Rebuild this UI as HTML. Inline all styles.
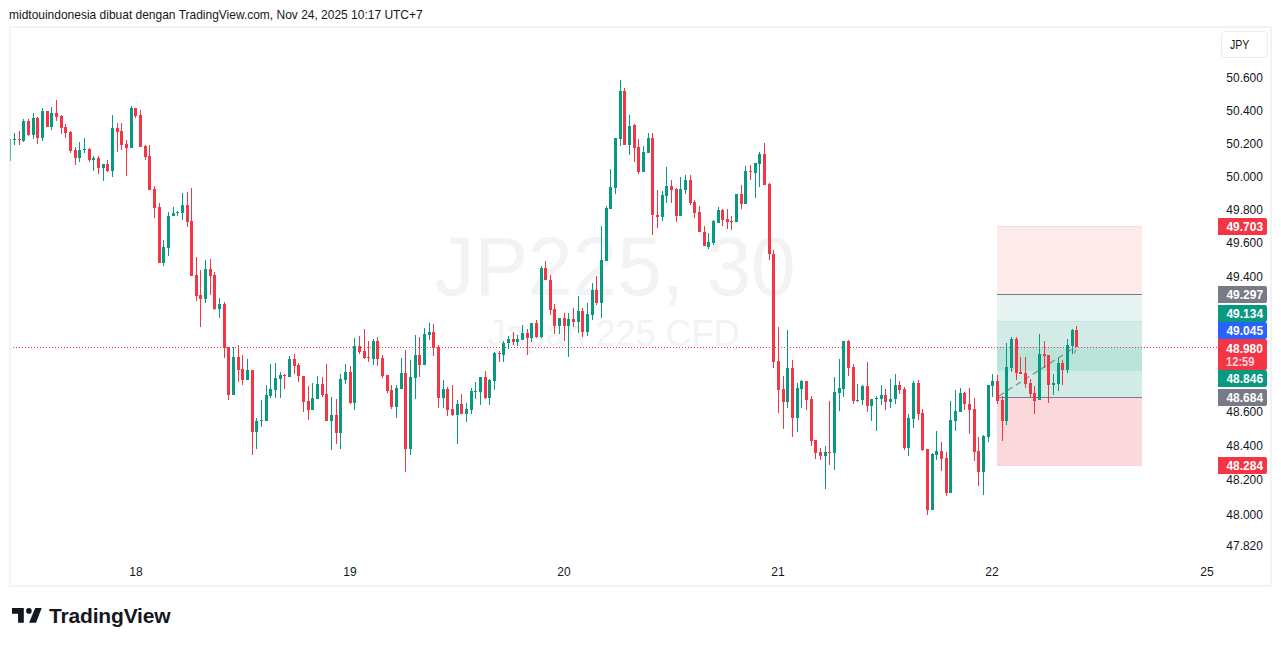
<!DOCTYPE html>
<html><head><meta charset="utf-8">
<style>
html,body{margin:0;padding:0;background:#fff;}
body{width:1281px;height:646px;position:relative;overflow:hidden;font-family:"Liberation Sans",sans-serif;color:#131722;}
.abs{position:absolute;}
#hdr{left:9.3px;top:7px;font-size:13px;line-height:15px;white-space:nowrap;color:#131722;transform:scaleX(0.9215);transform-origin:0 0;}
#frame{left:9px;top:26px;width:1259px;height:557px;border:2px solid #f3f3f3;}
.pl{position:absolute;right:18px;font-size:12.4px;line-height:15px;transform:scaleX(0.965);transform-origin:100% 0;text-align:right;color:#131722;}
.tl{position:absolute;top:565px;font-size:12px;line-height:14px;width:40px;text-align:center;color:#131722;}
.lb{position:absolute;left:1218px;width:49px;color:#fff;font-size:12.4px;font-weight:bold;line-height:17px;text-align:right;border-radius:0 2px 2px 0;}
.lb span{padding-right:4px;position:relative;top:1px;display:inline-block;transform:scaleX(0.965);transform-origin:100% 0;}
</style></head><body>
<div id="hdr" class="abs">midtouindonesia dibuat dengan TradingView.com, Nov 24, 2025 10:17 UTC+7</div>
<div id="frame" class="abs"></div>
<svg class="abs" style="left:0;top:0" width="1281" height="646" viewBox="0 0 1281 646">
 <defs><clipPath id="cp"><rect x="11" y="28" width="1200" height="522"/></clipPath></defs>
 <g fill="#f3f3f3" font-family="Liberation Sans" >
  <text x="0" y="0" font-size="84" transform="translate(615 295) scale(0.955 1)" text-anchor="middle">JP225, 30</text>
  <text x="613.5" y="346" font-size="36" text-anchor="middle">Japan 225 CFD</text>
 </g>
 <g clip-path="url(#cp)" shape-rendering="crispEdges">
  <rect x="997" y="226" width="145" height="68" fill="#fdeaea"/>
  <rect x="997" y="226" width="145" height="1" fill="#fbdcdc"/>
  <rect x="997" y="295" width="145" height="26" fill="#e5f4f1"/>
  <rect x="997" y="321" width="145" height="26" fill="#d2ebe6"/>
  <rect x="997" y="321" width="145" height="1" fill="#c4e5de"/>
  <rect x="997" y="347" width="145" height="24" fill="#bae3da"/>
  <rect x="997" y="371" width="145" height="26" fill="#d2ebe6"/>
  <rect x="997" y="398" width="145" height="68" fill="#fad8db"/>
  <rect x="997" y="465" width="145" height="1" fill="#f9d0d5"/>
  <rect x="997" y="294" width="145" height="1" fill="#787b86"/>
  <rect x="997" y="397" width="145" height="1" fill="#787b86"/>
 </g>
 <defs><pattern id="dots" x="1" y="347" width="3" height="1" patternUnits="userSpaceOnUse"><rect x="0" y="0" width="1" height="1" fill="#f23645"/></pattern></defs>
 <rect x="11" y="347" width="1207" height="1" fill="url(#dots)" shape-rendering="crispEdges"/>
 <line x1="999" y1="396" x2="1076" y2="346.5" stroke="#858892" stroke-width="1.2" stroke-dasharray="6 4"/>
 <line x1="1075.8" y1="349.5" x2="1074.3" y2="353.5" stroke="#858892" stroke-width="1.2"/>
 <g clip-path="url(#cp)" shape-rendering="crispEdges">
<rect x="14" y="133" width="1" height="12" fill="#089981"/>
<rect x="13" y="139" width="3" height="1" fill="#089981"/>
<rect x="19" y="131" width="1" height="14" fill="#f23645"/>
<rect x="18" y="139" width="3" height="1" fill="#f23645"/>
<rect x="23" y="119" width="1" height="23" fill="#089981"/>
<rect x="22" y="121" width="3" height="20" fill="#089981"/>
<rect x="28" y="119" width="1" height="17" fill="#f23645"/>
<rect x="27" y="121" width="3" height="14" fill="#f23645"/>
<rect x="33" y="113" width="1" height="26" fill="#089981"/>
<rect x="32" y="118" width="3" height="17" fill="#089981"/>
<rect x="37" y="117" width="1" height="27" fill="#f23645"/>
<rect x="36" y="118" width="3" height="20" fill="#f23645"/>
<rect x="42" y="108" width="1" height="33" fill="#089981"/>
<rect x="41" y="111" width="3" height="27" fill="#089981"/>
<rect x="47" y="111" width="1" height="16" fill="#f23645"/>
<rect x="46" y="111" width="3" height="16" fill="#f23645"/>
<rect x="51" y="107" width="1" height="23" fill="#089981"/>
<rect x="50" y="113" width="3" height="14" fill="#089981"/>
<rect x="56" y="100" width="1" height="21" fill="#f23645"/>
<rect x="55" y="113" width="3" height="4" fill="#f23645"/>
<rect x="61" y="115" width="1" height="19" fill="#f23645"/>
<rect x="60" y="116" width="3" height="12" fill="#f23645"/>
<rect x="65" y="124" width="1" height="14" fill="#f23645"/>
<rect x="64" y="127" width="3" height="6" fill="#f23645"/>
<rect x="70" y="131" width="1" height="22" fill="#f23645"/>
<rect x="69" y="132" width="3" height="19" fill="#f23645"/>
<rect x="75" y="147" width="1" height="18" fill="#f23645"/>
<rect x="74" y="150" width="3" height="8" fill="#f23645"/>
<rect x="79" y="142" width="1" height="20" fill="#089981"/>
<rect x="78" y="150" width="3" height="8" fill="#089981"/>
<rect x="84" y="138" width="1" height="15" fill="#089981"/>
<rect x="83" y="149" width="3" height="1" fill="#089981"/>
<rect x="89" y="148" width="1" height="14" fill="#f23645"/>
<rect x="88" y="149" width="3" height="11" fill="#f23645"/>
<rect x="93" y="156" width="1" height="15" fill="#089981"/>
<rect x="92" y="158" width="3" height="2" fill="#089981"/>
<rect x="98" y="156" width="1" height="18" fill="#f23645"/>
<rect x="97" y="158" width="3" height="10" fill="#f23645"/>
<rect x="103" y="164" width="1" height="17" fill="#089981"/>
<rect x="102" y="164" width="3" height="4" fill="#089981"/>
<rect x="107" y="160" width="1" height="12" fill="#f23645"/>
<rect x="106" y="164" width="3" height="7" fill="#f23645"/>
<rect x="112" y="115" width="1" height="62" fill="#089981"/>
<rect x="111" y="128" width="3" height="43" fill="#089981"/>
<rect x="117" y="123" width="1" height="29" fill="#f23645"/>
<rect x="116" y="128" width="3" height="4" fill="#f23645"/>
<rect x="121" y="123" width="1" height="27" fill="#f23645"/>
<rect x="120" y="131" width="3" height="14" fill="#f23645"/>
<rect x="126" y="140" width="1" height="36" fill="#f23645"/>
<rect x="125" y="144" width="3" height="4" fill="#f23645"/>
<rect x="131" y="106" width="1" height="42" fill="#089981"/>
<rect x="130" y="108" width="3" height="40" fill="#089981"/>
<rect x="135" y="108" width="1" height="10" fill="#f23645"/>
<rect x="134" y="108" width="3" height="8" fill="#f23645"/>
<rect x="140" y="110" width="1" height="37" fill="#f23645"/>
<rect x="139" y="115" width="3" height="32" fill="#f23645"/>
<rect x="145" y="145" width="1" height="15" fill="#f23645"/>
<rect x="144" y="146" width="3" height="11" fill="#f23645"/>
<rect x="149" y="145" width="1" height="45" fill="#f23645"/>
<rect x="148" y="156" width="3" height="34" fill="#f23645"/>
<rect x="154" y="186" width="1" height="32" fill="#f23645"/>
<rect x="153" y="189" width="3" height="19" fill="#f23645"/>
<rect x="159" y="203" width="1" height="60" fill="#f23645"/>
<rect x="158" y="207" width="3" height="56" fill="#f23645"/>
<rect x="163" y="240" width="1" height="26" fill="#089981"/>
<rect x="162" y="247" width="3" height="16" fill="#089981"/>
<rect x="168" y="212" width="1" height="44" fill="#089981"/>
<rect x="167" y="216" width="3" height="32" fill="#089981"/>
<rect x="173" y="207" width="1" height="9" fill="#089981"/>
<rect x="172" y="213" width="3" height="3" fill="#089981"/>
<rect x="177" y="211" width="1" height="5" fill="#089981"/>
<rect x="176" y="212" width="3" height="1" fill="#089981"/>
<rect x="182" y="193" width="1" height="27" fill="#089981"/>
<rect x="181" y="205" width="3" height="8" fill="#089981"/>
<rect x="187" y="192" width="1" height="35" fill="#f23645"/>
<rect x="186" y="205" width="3" height="17" fill="#f23645"/>
<rect x="191" y="188" width="1" height="88" fill="#f23645"/>
<rect x="190" y="221" width="3" height="55" fill="#f23645"/>
<rect x="196" y="257" width="1" height="44" fill="#f23645"/>
<rect x="195" y="275" width="3" height="21" fill="#f23645"/>
<rect x="200" y="270" width="1" height="57" fill="#f23645"/>
<rect x="199" y="295" width="3" height="4" fill="#f23645"/>
<rect x="205" y="260" width="1" height="43" fill="#089981"/>
<rect x="204" y="269" width="3" height="30" fill="#089981"/>
<rect x="210" y="259" width="1" height="36" fill="#f23645"/>
<rect x="209" y="269" width="3" height="7" fill="#f23645"/>
<rect x="214" y="272" width="1" height="38" fill="#f23645"/>
<rect x="213" y="275" width="3" height="34" fill="#f23645"/>
<rect x="219" y="298" width="1" height="20" fill="#089981"/>
<rect x="218" y="304" width="3" height="5" fill="#089981"/>
<rect x="224" y="302" width="1" height="56" fill="#f23645"/>
<rect x="223" y="304" width="3" height="44" fill="#f23645"/>
<rect x="228" y="347" width="1" height="53" fill="#f23645"/>
<rect x="227" y="347" width="3" height="48" fill="#f23645"/>
<rect x="233" y="347" width="1" height="48" fill="#089981"/>
<rect x="232" y="357" width="3" height="38" fill="#089981"/>
<rect x="238" y="345" width="1" height="37" fill="#f23645"/>
<rect x="237" y="357" width="3" height="13" fill="#f23645"/>
<rect x="242" y="355" width="1" height="30" fill="#f23645"/>
<rect x="241" y="369" width="3" height="11" fill="#f23645"/>
<rect x="247" y="359" width="1" height="21" fill="#089981"/>
<rect x="246" y="370" width="3" height="10" fill="#089981"/>
<rect x="252" y="370" width="1" height="85" fill="#f23645"/>
<rect x="251" y="370" width="3" height="62" fill="#f23645"/>
<rect x="256" y="418" width="1" height="31" fill="#089981"/>
<rect x="255" y="421" width="3" height="11" fill="#089981"/>
<rect x="261" y="400" width="1" height="27" fill="#089981"/>
<rect x="260" y="420" width="3" height="1" fill="#089981"/>
<rect x="266" y="385" width="1" height="36" fill="#089981"/>
<rect x="265" y="395" width="3" height="26" fill="#089981"/>
<rect x="270" y="364" width="1" height="34" fill="#089981"/>
<rect x="269" y="389" width="3" height="7" fill="#089981"/>
<rect x="275" y="363" width="1" height="35" fill="#089981"/>
<rect x="274" y="378" width="3" height="12" fill="#089981"/>
<rect x="280" y="372" width="1" height="26" fill="#089981"/>
<rect x="279" y="375" width="3" height="4" fill="#089981"/>
<rect x="284" y="374" width="1" height="15" fill="#f23645"/>
<rect x="283" y="375" width="3" height="1" fill="#f23645"/>
<rect x="289" y="356" width="1" height="21" fill="#089981"/>
<rect x="288" y="359" width="3" height="18" fill="#089981"/>
<rect x="294" y="354" width="1" height="20" fill="#f23645"/>
<rect x="293" y="359" width="3" height="7" fill="#f23645"/>
<rect x="298" y="363" width="1" height="19" fill="#f23645"/>
<rect x="297" y="365" width="3" height="11" fill="#f23645"/>
<rect x="303" y="376" width="1" height="36" fill="#f23645"/>
<rect x="302" y="376" width="3" height="26" fill="#f23645"/>
<rect x="308" y="386" width="1" height="34" fill="#f23645"/>
<rect x="307" y="401" width="3" height="9" fill="#f23645"/>
<rect x="312" y="383" width="1" height="27" fill="#089981"/>
<rect x="311" y="398" width="3" height="12" fill="#089981"/>
<rect x="317" y="376" width="1" height="23" fill="#089981"/>
<rect x="316" y="384" width="3" height="15" fill="#089981"/>
<rect x="322" y="377" width="1" height="20" fill="#f23645"/>
<rect x="321" y="384" width="3" height="11" fill="#f23645"/>
<rect x="326" y="364" width="1" height="57" fill="#f23645"/>
<rect x="325" y="394" width="3" height="27" fill="#f23645"/>
<rect x="331" y="397" width="1" height="53" fill="#089981"/>
<rect x="330" y="415" width="3" height="6" fill="#089981"/>
<rect x="336" y="399" width="1" height="45" fill="#f23645"/>
<rect x="335" y="415" width="3" height="18" fill="#f23645"/>
<rect x="340" y="374" width="1" height="75" fill="#089981"/>
<rect x="339" y="379" width="3" height="54" fill="#089981"/>
<rect x="345" y="364" width="1" height="20" fill="#089981"/>
<rect x="344" y="372" width="3" height="8" fill="#089981"/>
<rect x="350" y="366" width="1" height="38" fill="#f23645"/>
<rect x="349" y="372" width="3" height="31" fill="#f23645"/>
<rect x="354" y="338" width="1" height="72" fill="#089981"/>
<rect x="353" y="346" width="3" height="57" fill="#089981"/>
<rect x="359" y="336" width="1" height="18" fill="#f23645"/>
<rect x="358" y="346" width="3" height="6" fill="#f23645"/>
<rect x="364" y="329" width="1" height="30" fill="#f23645"/>
<rect x="363" y="351" width="3" height="7" fill="#f23645"/>
<rect x="368" y="341" width="1" height="21" fill="#f23645"/>
<rect x="367" y="357" width="3" height="1" fill="#f23645"/>
<rect x="373" y="339" width="1" height="26" fill="#089981"/>
<rect x="372" y="341" width="3" height="18" fill="#089981"/>
<rect x="377" y="337" width="1" height="29" fill="#f23645"/>
<rect x="376" y="341" width="3" height="18" fill="#f23645"/>
<rect x="382" y="355" width="1" height="23" fill="#f23645"/>
<rect x="381" y="358" width="3" height="18" fill="#f23645"/>
<rect x="387" y="375" width="1" height="18" fill="#f23645"/>
<rect x="386" y="375" width="3" height="16" fill="#f23645"/>
<rect x="391" y="385" width="1" height="24" fill="#f23645"/>
<rect x="390" y="390" width="3" height="17" fill="#f23645"/>
<rect x="396" y="385" width="1" height="33" fill="#089981"/>
<rect x="395" y="388" width="3" height="19" fill="#089981"/>
<rect x="401" y="358" width="1" height="31" fill="#089981"/>
<rect x="400" y="373" width="3" height="16" fill="#089981"/>
<rect x="405" y="350" width="1" height="122" fill="#f23645"/>
<rect x="404" y="373" width="3" height="76" fill="#f23645"/>
<rect x="410" y="360" width="1" height="95" fill="#089981"/>
<rect x="409" y="377" width="3" height="72" fill="#089981"/>
<rect x="415" y="335" width="1" height="64" fill="#089981"/>
<rect x="414" y="355" width="3" height="23" fill="#089981"/>
<rect x="419" y="337" width="1" height="40" fill="#f23645"/>
<rect x="418" y="355" width="3" height="10" fill="#f23645"/>
<rect x="424" y="328" width="1" height="37" fill="#089981"/>
<rect x="423" y="334" width="3" height="31" fill="#089981"/>
<rect x="429" y="323" width="1" height="17" fill="#089981"/>
<rect x="428" y="332" width="3" height="3" fill="#089981"/>
<rect x="433" y="324" width="1" height="32" fill="#f23645"/>
<rect x="432" y="332" width="3" height="16" fill="#f23645"/>
<rect x="438" y="345" width="1" height="63" fill="#f23645"/>
<rect x="437" y="347" width="3" height="51" fill="#f23645"/>
<rect x="443" y="380" width="1" height="28" fill="#089981"/>
<rect x="442" y="389" width="3" height="9" fill="#089981"/>
<rect x="447" y="387" width="1" height="29" fill="#f23645"/>
<rect x="446" y="389" width="3" height="21" fill="#f23645"/>
<rect x="452" y="385" width="1" height="31" fill="#f23645"/>
<rect x="451" y="409" width="3" height="6" fill="#f23645"/>
<rect x="457" y="400" width="1" height="44" fill="#089981"/>
<rect x="456" y="404" width="3" height="11" fill="#089981"/>
<rect x="461" y="394" width="1" height="20" fill="#f23645"/>
<rect x="460" y="404" width="3" height="10" fill="#f23645"/>
<rect x="466" y="403" width="1" height="19" fill="#089981"/>
<rect x="465" y="409" width="3" height="5" fill="#089981"/>
<rect x="471" y="388" width="1" height="26" fill="#089981"/>
<rect x="470" y="391" width="3" height="19" fill="#089981"/>
<rect x="475" y="382" width="1" height="17" fill="#089981"/>
<rect x="474" y="391" width="3" height="1" fill="#089981"/>
<rect x="480" y="377" width="1" height="28" fill="#089981"/>
<rect x="479" y="377" width="3" height="15" fill="#089981"/>
<rect x="485" y="371" width="1" height="28" fill="#f23645"/>
<rect x="484" y="377" width="3" height="21" fill="#f23645"/>
<rect x="489" y="379" width="1" height="26" fill="#089981"/>
<rect x="488" y="380" width="3" height="18" fill="#089981"/>
<rect x="494" y="352" width="1" height="38" fill="#089981"/>
<rect x="493" y="353" width="3" height="28" fill="#089981"/>
<rect x="499" y="351" width="1" height="11" fill="#f23645"/>
<rect x="498" y="353" width="3" height="1" fill="#f23645"/>
<rect x="503" y="341" width="1" height="21" fill="#089981"/>
<rect x="502" y="343" width="3" height="12" fill="#089981"/>
<rect x="508" y="336" width="1" height="13" fill="#089981"/>
<rect x="507" y="339" width="3" height="4" fill="#089981"/>
<rect x="513" y="332" width="1" height="13" fill="#f23645"/>
<rect x="512" y="339" width="3" height="3" fill="#f23645"/>
<rect x="517" y="335" width="1" height="11" fill="#089981"/>
<rect x="516" y="339" width="3" height="3" fill="#089981"/>
<rect x="522" y="325" width="1" height="15" fill="#089981"/>
<rect x="521" y="333" width="3" height="7" fill="#089981"/>
<rect x="527" y="329" width="1" height="26" fill="#f23645"/>
<rect x="526" y="333" width="3" height="5" fill="#f23645"/>
<rect x="531" y="323" width="1" height="19" fill="#089981"/>
<rect x="530" y="323" width="3" height="15" fill="#089981"/>
<rect x="536" y="320" width="1" height="18" fill="#f23645"/>
<rect x="535" y="323" width="3" height="14" fill="#f23645"/>
<rect x="541" y="266" width="1" height="72" fill="#089981"/>
<rect x="540" y="268" width="3" height="69" fill="#089981"/>
<rect x="545" y="261" width="1" height="19" fill="#f23645"/>
<rect x="544" y="268" width="3" height="12" fill="#f23645"/>
<rect x="550" y="275" width="1" height="40" fill="#f23645"/>
<rect x="549" y="280" width="3" height="30" fill="#f23645"/>
<rect x="554" y="304" width="1" height="30" fill="#f23645"/>
<rect x="553" y="309" width="3" height="17" fill="#f23645"/>
<rect x="559" y="318" width="1" height="16" fill="#089981"/>
<rect x="558" y="318" width="3" height="8" fill="#089981"/>
<rect x="564" y="313" width="1" height="28" fill="#f23645"/>
<rect x="563" y="318" width="3" height="8" fill="#f23645"/>
<rect x="568" y="313" width="1" height="44" fill="#089981"/>
<rect x="567" y="319" width="3" height="7" fill="#089981"/>
<rect x="573" y="308" width="1" height="19" fill="#f23645"/>
<rect x="572" y="319" width="3" height="3" fill="#f23645"/>
<rect x="578" y="296" width="1" height="37" fill="#089981"/>
<rect x="577" y="311" width="3" height="11" fill="#089981"/>
<rect x="582" y="308" width="1" height="29" fill="#f23645"/>
<rect x="581" y="311" width="3" height="21" fill="#f23645"/>
<rect x="587" y="303" width="1" height="33" fill="#089981"/>
<rect x="586" y="314" width="3" height="18" fill="#089981"/>
<rect x="592" y="283" width="1" height="37" fill="#089981"/>
<rect x="591" y="290" width="3" height="25" fill="#089981"/>
<rect x="596" y="276" width="1" height="29" fill="#f23645"/>
<rect x="595" y="290" width="3" height="13" fill="#f23645"/>
<rect x="601" y="226" width="1" height="92" fill="#089981"/>
<rect x="600" y="260" width="3" height="43" fill="#089981"/>
<rect x="606" y="206" width="1" height="55" fill="#089981"/>
<rect x="605" y="208" width="3" height="53" fill="#089981"/>
<rect x="610" y="169" width="1" height="40" fill="#089981"/>
<rect x="609" y="187" width="3" height="22" fill="#089981"/>
<rect x="615" y="138" width="1" height="56" fill="#089981"/>
<rect x="614" y="138" width="3" height="50" fill="#089981"/>
<rect x="620" y="80" width="1" height="66" fill="#089981"/>
<rect x="619" y="91" width="3" height="48" fill="#089981"/>
<rect x="624" y="88" width="1" height="57" fill="#f23645"/>
<rect x="623" y="91" width="3" height="54" fill="#f23645"/>
<rect x="629" y="115" width="1" height="40" fill="#089981"/>
<rect x="628" y="126" width="3" height="19" fill="#089981"/>
<rect x="634" y="124" width="1" height="38" fill="#f23645"/>
<rect x="633" y="125" width="3" height="23" fill="#f23645"/>
<rect x="638" y="139" width="1" height="35" fill="#f23645"/>
<rect x="637" y="147" width="3" height="25" fill="#f23645"/>
<rect x="643" y="146" width="1" height="26" fill="#089981"/>
<rect x="642" y="152" width="3" height="20" fill="#089981"/>
<rect x="648" y="133" width="1" height="20" fill="#089981"/>
<rect x="647" y="138" width="3" height="15" fill="#089981"/>
<rect x="652" y="133" width="1" height="102" fill="#f23645"/>
<rect x="651" y="138" width="3" height="77" fill="#f23645"/>
<rect x="657" y="190" width="1" height="38" fill="#f23645"/>
<rect x="656" y="215" width="3" height="2" fill="#f23645"/>
<rect x="662" y="191" width="1" height="30" fill="#089981"/>
<rect x="661" y="195" width="3" height="22" fill="#089981"/>
<rect x="666" y="167" width="1" height="36" fill="#089981"/>
<rect x="665" y="186" width="3" height="10" fill="#089981"/>
<rect x="671" y="180" width="1" height="23" fill="#f23645"/>
<rect x="670" y="186" width="3" height="4" fill="#f23645"/>
<rect x="676" y="188" width="1" height="34" fill="#f23645"/>
<rect x="675" y="189" width="3" height="27" fill="#f23645"/>
<rect x="680" y="177" width="1" height="39" fill="#089981"/>
<rect x="679" y="189" width="3" height="27" fill="#089981"/>
<rect x="685" y="175" width="1" height="19" fill="#089981"/>
<rect x="684" y="180" width="3" height="10" fill="#089981"/>
<rect x="690" y="175" width="1" height="30" fill="#f23645"/>
<rect x="689" y="180" width="3" height="23" fill="#f23645"/>
<rect x="694" y="200" width="1" height="18" fill="#f23645"/>
<rect x="693" y="202" width="3" height="11" fill="#f23645"/>
<rect x="699" y="206" width="1" height="26" fill="#f23645"/>
<rect x="698" y="212" width="3" height="20" fill="#f23645"/>
<rect x="704" y="226" width="1" height="20" fill="#f23645"/>
<rect x="703" y="232" width="3" height="14" fill="#f23645"/>
<rect x="708" y="233" width="1" height="16" fill="#089981"/>
<rect x="707" y="242" width="3" height="5" fill="#089981"/>
<rect x="713" y="220" width="1" height="25" fill="#089981"/>
<rect x="712" y="221" width="3" height="22" fill="#089981"/>
<rect x="718" y="207" width="1" height="16" fill="#089981"/>
<rect x="717" y="210" width="3" height="13" fill="#089981"/>
<rect x="722" y="209" width="1" height="17" fill="#f23645"/>
<rect x="721" y="210" width="3" height="10" fill="#f23645"/>
<rect x="727" y="209" width="1" height="20" fill="#f23645"/>
<rect x="726" y="219" width="3" height="3" fill="#f23645"/>
<rect x="731" y="216" width="1" height="14" fill="#f23645"/>
<rect x="730" y="221" width="3" height="1" fill="#f23645"/>
<rect x="736" y="194" width="1" height="28" fill="#089981"/>
<rect x="735" y="194" width="3" height="28" fill="#089981"/>
<rect x="741" y="185" width="1" height="24" fill="#f23645"/>
<rect x="740" y="194" width="3" height="10" fill="#f23645"/>
<rect x="745" y="166" width="1" height="38" fill="#089981"/>
<rect x="744" y="171" width="3" height="33" fill="#089981"/>
<rect x="750" y="165" width="1" height="15" fill="#f23645"/>
<rect x="749" y="171" width="3" height="1" fill="#f23645"/>
<rect x="755" y="163" width="1" height="35" fill="#089981"/>
<rect x="754" y="163" width="3" height="10" fill="#089981"/>
<rect x="759" y="152" width="1" height="35" fill="#089981"/>
<rect x="758" y="154" width="3" height="10" fill="#089981"/>
<rect x="764" y="143" width="1" height="42" fill="#f23645"/>
<rect x="763" y="154" width="3" height="31" fill="#f23645"/>
<rect x="769" y="183" width="1" height="77" fill="#f23645"/>
<rect x="768" y="184" width="3" height="70" fill="#f23645"/>
<rect x="773" y="250" width="1" height="118" fill="#f23645"/>
<rect x="772" y="254" width="3" height="108" fill="#f23645"/>
<rect x="778" y="327" width="1" height="86" fill="#f23645"/>
<rect x="777" y="361" width="3" height="29" fill="#f23645"/>
<rect x="783" y="376" width="1" height="53" fill="#f23645"/>
<rect x="782" y="389" width="3" height="13" fill="#f23645"/>
<rect x="787" y="330" width="1" height="78" fill="#089981"/>
<rect x="786" y="368" width="3" height="34" fill="#089981"/>
<rect x="792" y="360" width="1" height="77" fill="#f23645"/>
<rect x="791" y="368" width="3" height="50" fill="#f23645"/>
<rect x="797" y="383" width="1" height="49" fill="#089981"/>
<rect x="796" y="388" width="3" height="30" fill="#089981"/>
<rect x="801" y="380" width="1" height="28" fill="#089981"/>
<rect x="800" y="381" width="3" height="8" fill="#089981"/>
<rect x="806" y="381" width="1" height="29" fill="#f23645"/>
<rect x="805" y="381" width="3" height="19" fill="#f23645"/>
<rect x="811" y="396" width="1" height="50" fill="#f23645"/>
<rect x="810" y="399" width="3" height="42" fill="#f23645"/>
<rect x="815" y="440" width="1" height="19" fill="#f23645"/>
<rect x="814" y="440" width="3" height="13" fill="#f23645"/>
<rect x="820" y="448" width="1" height="12" fill="#f23645"/>
<rect x="819" y="452" width="3" height="4" fill="#f23645"/>
<rect x="825" y="446" width="1" height="43" fill="#089981"/>
<rect x="824" y="452" width="3" height="4" fill="#089981"/>
<rect x="829" y="401" width="1" height="64" fill="#f23645"/>
<rect x="828" y="452" width="3" height="1" fill="#f23645"/>
<rect x="834" y="377" width="1" height="93" fill="#089981"/>
<rect x="833" y="392" width="3" height="61" fill="#089981"/>
<rect x="839" y="359" width="1" height="52" fill="#089981"/>
<rect x="838" y="388" width="3" height="5" fill="#089981"/>
<rect x="843" y="341" width="1" height="56" fill="#089981"/>
<rect x="842" y="341" width="3" height="48" fill="#089981"/>
<rect x="848" y="340" width="1" height="36" fill="#f23645"/>
<rect x="847" y="341" width="3" height="27" fill="#f23645"/>
<rect x="853" y="364" width="1" height="40" fill="#f23645"/>
<rect x="852" y="367" width="3" height="34" fill="#f23645"/>
<rect x="857" y="384" width="1" height="18" fill="#089981"/>
<rect x="856" y="400" width="3" height="1" fill="#089981"/>
<rect x="862" y="385" width="1" height="20" fill="#089981"/>
<rect x="861" y="386" width="3" height="14" fill="#089981"/>
<rect x="867" y="362" width="1" height="50" fill="#f23645"/>
<rect x="866" y="386" width="3" height="20" fill="#f23645"/>
<rect x="871" y="399" width="1" height="22" fill="#089981"/>
<rect x="870" y="399" width="3" height="7" fill="#089981"/>
<rect x="876" y="396" width="1" height="35" fill="#089981"/>
<rect x="875" y="398" width="3" height="1" fill="#089981"/>
<rect x="881" y="385" width="1" height="20" fill="#089981"/>
<rect x="880" y="395" width="3" height="4" fill="#089981"/>
<rect x="885" y="389" width="1" height="21" fill="#f23645"/>
<rect x="884" y="395" width="3" height="7" fill="#f23645"/>
<rect x="890" y="379" width="1" height="29" fill="#089981"/>
<rect x="889" y="399" width="3" height="3" fill="#089981"/>
<rect x="895" y="374" width="1" height="30" fill="#089981"/>
<rect x="894" y="385" width="3" height="14" fill="#089981"/>
<rect x="899" y="381" width="1" height="13" fill="#f23645"/>
<rect x="898" y="385" width="3" height="5" fill="#f23645"/>
<rect x="904" y="387" width="1" height="63" fill="#f23645"/>
<rect x="903" y="389" width="3" height="59" fill="#f23645"/>
<rect x="908" y="414" width="1" height="42" fill="#089981"/>
<rect x="907" y="418" width="3" height="30" fill="#089981"/>
<rect x="913" y="381" width="1" height="47" fill="#089981"/>
<rect x="912" y="383" width="3" height="36" fill="#089981"/>
<rect x="918" y="380" width="1" height="40" fill="#f23645"/>
<rect x="917" y="383" width="3" height="31" fill="#f23645"/>
<rect x="922" y="409" width="1" height="42" fill="#f23645"/>
<rect x="921" y="413" width="3" height="37" fill="#f23645"/>
<rect x="927" y="449" width="1" height="66" fill="#f23645"/>
<rect x="926" y="449" width="3" height="61" fill="#f23645"/>
<rect x="932" y="453" width="1" height="57" fill="#089981"/>
<rect x="931" y="454" width="3" height="56" fill="#089981"/>
<rect x="936" y="431" width="1" height="29" fill="#089981"/>
<rect x="935" y="451" width="3" height="4" fill="#089981"/>
<rect x="941" y="442" width="1" height="29" fill="#f23645"/>
<rect x="940" y="451" width="3" height="8" fill="#f23645"/>
<rect x="946" y="452" width="1" height="44" fill="#f23645"/>
<rect x="945" y="458" width="3" height="35" fill="#f23645"/>
<rect x="950" y="401" width="1" height="92" fill="#089981"/>
<rect x="949" y="420" width="3" height="73" fill="#089981"/>
<rect x="955" y="390" width="1" height="41" fill="#089981"/>
<rect x="954" y="411" width="3" height="10" fill="#089981"/>
<rect x="960" y="388" width="1" height="24" fill="#089981"/>
<rect x="959" y="393" width="3" height="19" fill="#089981"/>
<rect x="964" y="392" width="1" height="18" fill="#f23645"/>
<rect x="963" y="393" width="3" height="11" fill="#f23645"/>
<rect x="969" y="388" width="1" height="46" fill="#f23645"/>
<rect x="968" y="404" width="3" height="6" fill="#f23645"/>
<rect x="974" y="398" width="1" height="63" fill="#f23645"/>
<rect x="973" y="409" width="3" height="43" fill="#f23645"/>
<rect x="978" y="437" width="1" height="49" fill="#f23645"/>
<rect x="977" y="451" width="3" height="21" fill="#f23645"/>
<rect x="983" y="435" width="1" height="60" fill="#089981"/>
<rect x="982" y="436" width="3" height="36" fill="#089981"/>
<rect x="988" y="385" width="1" height="57" fill="#089981"/>
<rect x="987" y="385" width="3" height="52" fill="#089981"/>
<rect x="992" y="374" width="1" height="23" fill="#089981"/>
<rect x="991" y="381" width="3" height="5" fill="#089981"/>
<rect x="997" y="375" width="1" height="29" fill="#f23645"/>
<rect x="996" y="381" width="3" height="20" fill="#f23645"/>
<rect x="1002" y="396" width="1" height="45" fill="#f23645"/>
<rect x="1001" y="400" width="3" height="21" fill="#f23645"/>
<rect x="1006" y="343" width="1" height="82" fill="#089981"/>
<rect x="1005" y="367" width="3" height="54" fill="#089981"/>
<rect x="1011" y="337" width="1" height="35" fill="#089981"/>
<rect x="1010" y="339" width="3" height="29" fill="#089981"/>
<rect x="1016" y="337" width="1" height="43" fill="#f23645"/>
<rect x="1015" y="339" width="3" height="34" fill="#f23645"/>
<rect x="1020" y="357" width="1" height="17" fill="#f23645"/>
<rect x="1019" y="372" width="3" height="2" fill="#f23645"/>
<rect x="1025" y="357" width="1" height="31" fill="#f23645"/>
<rect x="1024" y="373" width="3" height="11" fill="#f23645"/>
<rect x="1030" y="379" width="1" height="18" fill="#f23645"/>
<rect x="1029" y="383" width="3" height="11" fill="#f23645"/>
<rect x="1034" y="386" width="1" height="28" fill="#f23645"/>
<rect x="1033" y="393" width="3" height="8" fill="#f23645"/>
<rect x="1039" y="334" width="1" height="66" fill="#089981"/>
<rect x="1038" y="354" width="3" height="46" fill="#089981"/>
<rect x="1044" y="341" width="1" height="27" fill="#f23645"/>
<rect x="1043" y="354" width="3" height="2" fill="#f23645"/>
<rect x="1048" y="355" width="1" height="48" fill="#f23645"/>
<rect x="1047" y="355" width="3" height="30" fill="#f23645"/>
<rect x="1053" y="374" width="1" height="21" fill="#089981"/>
<rect x="1052" y="383" width="3" height="2" fill="#089981"/>
<rect x="1058" y="358" width="1" height="33" fill="#089981"/>
<rect x="1057" y="363" width="3" height="21" fill="#089981"/>
<rect x="1062" y="360" width="1" height="25" fill="#f23645"/>
<rect x="1061" y="363" width="3" height="7" fill="#f23645"/>
<rect x="1067" y="339" width="1" height="34" fill="#089981"/>
<rect x="1066" y="345" width="3" height="25" fill="#089981"/>
<rect x="1072" y="329" width="1" height="25" fill="#089981"/>
<rect x="1071" y="330" width="3" height="16" fill="#089981"/>
<rect x="1076" y="326" width="1" height="21" fill="#f23645"/>
<rect x="1075" y="330" width="3" height="17" fill="#f23645"/>
 </g>
</svg>
<div class="abs" style="left:10px;top:139px;width:1px;height:22px;background:#5cb7a6"></div>
<div class="pl" style="top:71px">50.600</div>
<div class="pl" style="top:104px">50.400</div>
<div class="pl" style="top:137px">50.200</div>
<div class="pl" style="top:170px">50.000</div>
<div class="pl" style="top:203px">49.800</div>
<div class="pl" style="top:236px">49.600</div>
<div class="pl" style="top:270px">49.400</div>
<div class="pl" style="top:405px">48.600</div>
<div class="pl" style="top:439px">48.400</div>
<div class="pl" style="top:473px">48.200</div>
<div class="pl" style="top:508px">48.000</div>
<div class="pl" style="top:539px">47.820</div>
<div class="lb" style="top:218px;background:#f23645"><span>49.703</span></div>
<div class="lb" style="top:286px;background:#787b86"><span>49.297</span></div>
<div class="lb" style="top:305px;background:#089981"><span>49.134</span></div>
<div class="lb" style="top:322px;background:#2962ff"><span>49.045</span></div>
<div class="lb" style="top:339px;height:31px;background:#f23645;line-height:14px;position:absolute;"><div style="text-align:right;padding:3px 4px 0 0"><span style="padding:0;top:0">48.980</span></div><div style="position:absolute;left:8px;top:16px;color:#fcd6da;transform:scaleX(0.9);transform-origin:0 0;">12:59</div></div>
<div class="lb" style="top:370px;background:#089981"><span>48.846</span></div>
<div class="lb" style="top:389px;background:#787b86"><span>48.684</span></div>
<div class="lb" style="top:457px;background:#f23645"><span>48.284</span></div>
<div class="abs" style="left:1220.5px;top:30.5px;width:45px;height:25.5px;border:1px solid #ececec;border-radius:4px;"></div>
<div class="abs" style="left:1230px;top:38px;font-size:12px;line-height:14px;transform:scaleX(0.88);transform-origin:0 0;">JPY</div>
<div class="tl" style="left:116px">18</div>
<div class="tl" style="left:330px">19</div>
<div class="tl" style="left:544px">20</div>
<div class="tl" style="left:758px">21</div>
<div class="tl" style="left:972px">22</div>
<div class="tl" style="left:1187px">25</div>
<svg class="abs" style="left:0;top:0" width="200" height="646" viewBox="0 0 200 646">
 <path d="M12 608H23.8V622.8H18.06V613.75H12Z" fill="#131722"/>
 <circle cx="28.9" cy="610.9" r="2.8" fill="#131722"/>
 <path d="M35.2 608H41.7L36 622.8H29.1Z" fill="#131722"/>
</svg>
<div class="abs" style="left:49px;top:602px;font-size:21px;font-weight:bold;line-height:27px;color:#131722;letter-spacing:-0.17px">TradingView</div>
</body></html>
